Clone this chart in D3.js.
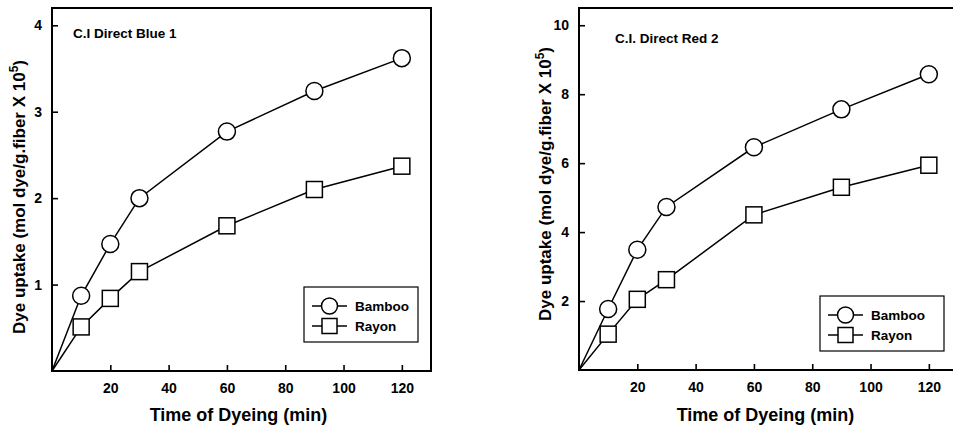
<!DOCTYPE html>
<html lang="en">
<head>
<meta charset="UTF-8">
<title>Dye uptake</title>
<style>
  body { margin: 0; background: #fff; }
  svg { display: block; }
  text { font-family: "Liberation Sans", Arial, sans-serif; fill: #000; }
</style>
</head>
<body>
<script src="https://cdnjs.cloudflare.com/ajax/libs/d3/7.8.5/d3.min.js"></script>
<script>
// time of dyeing (min), first point is the origin (no marker)
var times = [0, 10, 20, 30, 60, 90, 120];
var xTicks = [20, 40, 60, 80, 100, 120];

// C.I Direct Blue 1
var blueBamboo = [0, 0.87, 1.47, 2.00, 2.77, 3.24, 3.62];
var blueRayon  = [0, 0.51, 0.84, 1.15, 1.68, 2.10, 2.37];
var blueTicks  = [1, 2, 3, 4];

// C.I. Direct Red 2
var redBamboo = [0, 1.77, 3.49, 4.73, 6.46, 7.56, 8.58];
var redRayon  = [0, 1.04, 2.05, 2.62, 4.50, 5.30, 5.94];
var redTicks  = [2, 4, 6, 8, 10];

var seriesNames = ["Bamboo", "Rayon"];

var width = 953, height = 429;
var svg = d3.select("body").append("svg")
  .attr("width", width).attr("height", height);

function drawPanel(p) {
  var g = svg.append("g");
  var x = d3.scaleLinear().domain([0, 130]).range([p.left, p.left + 379]);
  var y = d3.scaleLinear().domain([0, p.yMax]).range([p.bottom, p.top]);

  // frame
  g.append("rect")
    .attr("x", x(0)).attr("y", y(p.yMax))
    .attr("width", x(130) - x(0)).attr("height", y(0) - y(p.yMax))
    .attr("fill", "none").attr("stroke", "#000").attr("stroke-width", 2);

  // x axis, ticks inward
  var xa = g.append("g").attr("transform", "translate(0," + y(0) + ")")
    .call(d3.axisBottom(x).tickValues(xTicks).tickSizeInner(-6).tickSizeOuter(0).tickPadding(12));
  xa.select(".domain").remove();
  xa.selectAll("line").attr("stroke-width", 1.6);
  xa.selectAll("text").attr("font-size", 14).attr("font-weight", "bold");

  var ya = g.append("g").attr("transform", "translate(" + x(0) + ",0)")
    .call(d3.axisLeft(y).tickValues(p.yTicks).tickFormat(d3.format("d"))
      .tickSizeInner(-6).tickSizeOuter(0).tickPadding(10));
  ya.select(".domain").remove();
  ya.selectAll("line").attr("stroke-width", 1.6);
  ya.selectAll("text").attr("font-size", 14).attr("font-weight", "bold");

  // axis titles
  g.append("text")
    .attr("x", (x(0) + x(130)) / 2 - 3).attr("y", 421)
    .attr("text-anchor", "middle").attr("font-size", 18).attr("font-weight", "bold")
    .text("Time of Dyeing (min)");

  var yt = g.append("text")
    .attr("transform", "translate(" + p.yTitleX + "," + p.yTitleY + ") rotate(-90)")
    .attr("text-anchor", "middle").attr("font-size", 17).attr("font-weight", "bold");
  yt.append("tspan").text("Dye uptake (mol dye/g.fiber X 10");
  yt.append("tspan").attr("dy", -7).attr("font-size", 12).text("5");
  yt.append("tspan").attr("dy", 7).text(")");

  // annotation
  g.append("text")
    .attr("x", p.noteX).attr("y", p.noteY)
    .attr("font-size", 13.5).attr("font-weight", "bold")
    .text(p.note);

  var line = d3.line().x(function(d, i) { return x(times[i]); }).y(function(d) { return y(d); });

  [p.bamboo, p.rayon].forEach(function(vals, s) {
    g.append("path").datum(vals)
      .attr("d", line).attr("fill", "none").attr("stroke", "#000").attr("stroke-width", 1.5);
    var pts = vals.slice(1);
    if (s === 0) {
      g.selectAll(null).data(pts).enter().append("circle")
        .attr("cx", function(d, i) { return x(times[i + 1]); })
        .attr("cy", function(d) { return y(d); })
        .attr("r", 8.5).attr("fill", "#fff").attr("stroke", "#000").attr("stroke-width", 1.5);
    } else {
      g.selectAll(null).data(pts).enter().append("rect")
        .attr("x", function(d, i) { return x(times[i + 1]) - 8; })
        .attr("y", function(d) { return y(d) - 8; })
        .attr("width", 16).attr("height", 16)
        .attr("fill", "#fff").attr("stroke", "#000").attr("stroke-width", 1.5);
    }
  });

  // legend
  var lg = g.append("g").attr("transform", "translate(" + p.legX + "," + p.legY + ")");
  lg.append("rect").attr("width", p.legW).attr("height", 55)
    .attr("fill", "#fff").attr("stroke", "#000").attr("stroke-width", 1.2);
  seriesNames.forEach(function(name, i) {
    var cy = 19 + i * 20;
    lg.append("line").attr("x1", 8).attr("x2", 43).attr("y1", cy).attr("y2", cy)
      .attr("stroke", "#000").attr("stroke-width", 1.5);
    if (i === 0) {
      lg.append("circle").attr("cx", 25.5).attr("cy", cy).attr("r", 8)
        .attr("fill", "#fff").attr("stroke", "#000").attr("stroke-width", 1.5);
    } else {
      lg.append("rect").attr("x", 18).attr("y", cy - 7.5).attr("width", 15).attr("height", 15)
        .attr("fill", "#fff").attr("stroke", "#000").attr("stroke-width", 1.5);
    }
    lg.append("text").attr("x", 51).attr("y", cy + 5)
      .attr("font-size", 13.5).attr("font-weight", "bold").text(name);
  });
}

drawPanel({
  left: 52, top: 8, bottom: 371, yMax: 4.2, yTicks: blueTicks,
  bamboo: blueBamboo, rayon: blueRayon,
  yTitleX: 25, yTitleY: 197, note: "C.I Direct Blue 1", noteX: 73, noteY: 38,
  legX: 304, legY: 287, legW: 114
});

drawPanel({
  left: 579, top: 8, bottom: 370, yMax: 10.5, yTicks: redTicks,
  bamboo: redBamboo, rayon: redRayon,
  yTitleX: 551, yTitleY: 184, note: "C.I. Direct Red 2", noteX: 615, noteY: 43,
  legX: 820, legY: 296, legW: 124
});
</script>
</body>
</html>
